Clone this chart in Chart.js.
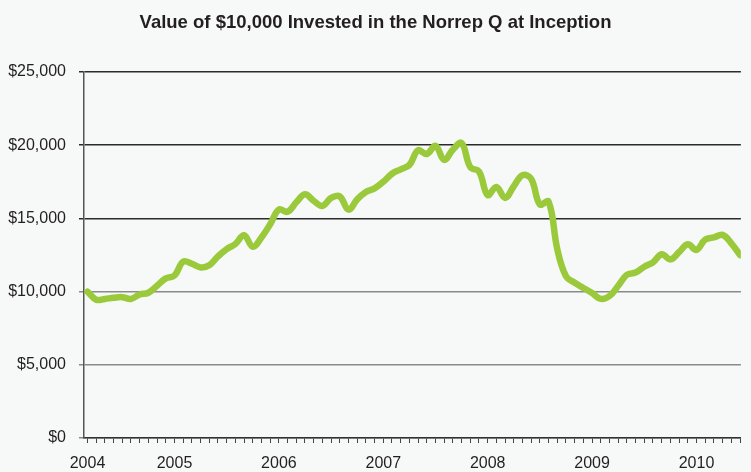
<!DOCTYPE html>
<html lang="en">
<head>
    <meta charset="UTF-8">
    <title>Norrep Q</title>
    <style>
        body {
            margin: 0;
            background: #f7f9f8;
        }

        .chart-box {
            width: 751px;
            height: 472px;
            position: relative;
        }
    </style>
</head>
<body>

    <div class="chart-box">
        <canvas id="mychart"></canvas>
    </div>

    <script src="https://cdn.jsdelivr.net/npm/chart.js@4/dist/chart.umd.min.js"></script>
    <script>
        // monthly points, Mar 2004 .. Jun 2010
        const months = [
            '2004-03','2004-04','2004-05','2004-06','2004-07','2004-08','2004-09','2004-10','2004-11','2004-12',
            '2005-01','2005-02','2005-03','2005-04','2005-05','2005-06','2005-07','2005-08','2005-09','2005-10','2005-11','2005-12',
            '2006-01','2006-02','2006-03','2006-04','2006-05','2006-06','2006-07','2006-08','2006-09','2006-10','2006-11','2006-12',
            '2007-01','2007-02','2007-03','2007-04','2007-05','2007-06','2007-07','2007-08','2007-09','2007-10','2007-11','2007-12',
            '2008-01','2008-02','2008-03','2008-04','2008-05','2008-06','2008-07','2008-08','2008-09','2008-10','2008-11','2008-12',
            '2009-01','2009-02','2009-03','2009-04','2009-05','2009-06','2009-07','2009-08','2009-09','2009-10','2009-11','2009-12',
            '2010-01','2010-02','2010-03','2010-04','2010-05','2010-06'
        ];

        // value of the $10,000
        const values = [
            10000, 9450, 9500, 9580, 9620, 9500, 9800, 9920, 10400, 10900,
            11100, 12050, 11900, 11650, 11800, 12400, 12900, 13250, 13850, 13070, 13700, 14600,
            15600, 15450, 16100, 16650, 16200, 15850, 16400, 16500, 15600, 16300, 16800, 17050,
            17500, 18050, 18350, 18650, 19650, 19400, 19950, 19000, 19700, 20150, 18500, 18200,
            16600, 17150, 16400, 17200, 17950, 17700, 15950, 16150, 12900, 11050, 10600, 10250,
            9900, 9500, 9700, 10400, 11150, 11300, 11700, 12000, 12550, 12200, 12700, 13230,
            12850, 13550, 13700, 13870, 13300, 12500
        ];

        const yearLabels = ['2004', '2005', '2006', '2007', '2008', '2009', '2010'];
        const yearStart = ['2004-03', '2005-01', '2006-01', '2007-01', '2008-01', '2009-01', '2010-01'];

        const yTicks = [0, 5000, 10000, 15000, 20000, 25000];

        const points = [];
        for (let i = 0; i < values.length; i++) {
            points.push({ x: i, y: values[i] });
        }

        const mychart = document.getElementById('mychart');

        new Chart(mychart, {
            type: 'line',
            data: {
                datasets: [
                    {
                        label: 'Norrep Q',
                        data: points,
                        borderColor: '#9bc93c',
                        borderWidth: 6.5,
                        pointRadius: 0,
                        tension: 0.4,
                        borderCapStyle: 'round',
                        borderJoinStyle: 'round',
                    },
                ],
            },
            options: {
                responsive: true,
                maintainAspectRatio: false,
                animation: false,
                layout: { padding: { left: 0, right: 0, top: 0, bottom: 0 } },
                plugins: {
                    legend: { display: false },
                    tooltip: { enabled: false },
                    title: {
                        display: true,
                        text: 'Value of $10,000 Invested in the Norrep Q at Inception',
                        color: '#231f20',
                        font: { family: '"Liberation Sans Narrow", "Liberation Sans", Arial', size: 18.5, weight: 'bold' },
                        padding: { top: 12, bottom: 37.8 },
                    },
                },
                scales: {
                    x: {
                        type: 'linear',
                        min: -0.4,
                        max: 75.1,
                        afterBuildTicks: (axis) => {
                            axis.ticks = months.map((m, i) => ({ value: i }));
                        },
                        afterFit: (axis) => { axis.height = 34; },
                        ticks: {
                            autoSkip: false,
                            maxRotation: 0,
                            padding: 11,
                            color: '#231f20',
                            font: { family: '"Liberation Sans Narrow", "Liberation Sans", Arial', size: 16 },
                            callback: (v) => {
                                const k = yearStart.indexOf(months[v]);
                                return k >= 0 ? yearLabels[k] : '';
                            },
                        },
                        grid: {
                            drawOnChartArea: false,
                            drawTicks: true,
                            tickLength: 5,
                            tickColor: '#444',
                        },
                        border: { color: '#333', width: 1.5 },
                    },
                    y: {
                        min: 0,
                        max: 25000,
                        afterBuildTicks: (axis) => {
                            axis.ticks = yTicks.map(v => ({ value: v }));
                        },
                        afterFit: (axis) => { axis.width = 84; },
                        ticks: {
                            padding: 13,
                            color: '#231f20',
                            font: { family: '"Liberation Sans Narrow", "Liberation Sans", Arial', size: 16 },
                            callback: (v) => '$' + v.toLocaleString('en-US'),
                        },
                        grid: {
                            color: (c) => c.tick && c.tick.value >= 15000 ? '#2b2b2b' : '#8a8a8a',
                            lineWidth: 1.5,
                            tickLength: 5,
                        },
                        border: { color: '#555', width: 1.5 },
                    },
                },
            },
        });
    </script>
</body>
</html>
